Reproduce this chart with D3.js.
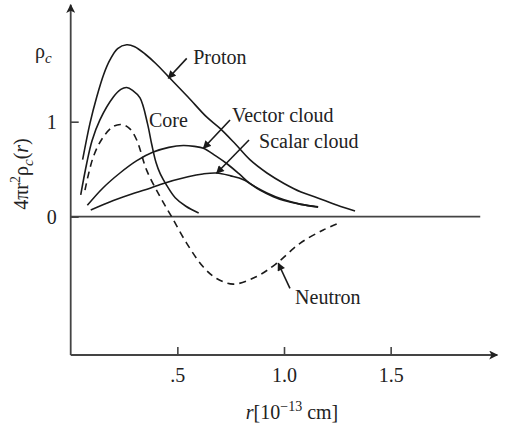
<!DOCTYPE html>
<html lang="en">
<head>
<meta charset="UTF-8"/>
<title>Charge density</title>
<script src="https://d3js.org/d3.v7.min.js"></script>
<style type="text/css">
  body { margin: 0; background: #fff; }
  svg text { font-family: "Liberation Serif", "DejaVu Serif", serif; font-size: 20px; fill: #222; }
  .curve { fill: none; stroke: #1a1a1a; stroke-width: 1.6; }
  .dashed { stroke-dasharray: 7, 5; }
  .axisLine { stroke: #444; stroke-width: 1.8; }
  .pointer { stroke: #1a1a1a; stroke-width: 1.6; }
</style>
</head>
<body>
<script>

// curves: [r, 4*pi*r^2*rho]
var proton = [[0.056,0.6],[0.09,0.98],[0.122,1.26],[0.155,1.5],[0.184,1.65],[0.22,1.77],[0.2625,1.81],
  [0.3,1.79],[0.35,1.71],[0.4,1.61],[0.456,1.48],[0.55,1.26],[0.637,1.05],[0.7,0.93],[0.77,0.77],
  [0.84,0.6],[0.92,0.46],[1.0,0.35],[1.08,0.26],[1.155,0.2],[1.25,0.12],[1.333,0.06]];
var core = [[0.047,0.23],[0.075,0.56],[0.1,0.8],[0.137,1.02],[0.2,1.26],[0.235,1.34],[0.2625,1.36],
  [0.29,1.33],[0.325,1.25],[0.36,0.98],[0.38,0.76],[0.4,0.57],[0.42,0.45],[0.45,0.33],[0.49,0.2],
  [0.54,0.11],[0.6,0.04]];
var neutron = [[0.067,0.28],[0.106,0.63],[0.153,0.84],[0.2,0.95],[0.239,0.97],[0.275,0.93],[0.309,0.81],
  [0.356,0.49],[0.419,0.21],[0.473,0.0],[0.544,-0.28],[0.622,-0.53],[0.684,-0.65],[0.762,-0.71],
  [0.872,-0.63],[0.966,-0.49],[1.075,-0.28],[1.184,-0.14],[1.247,-0.077]];
var vectorCloud = [[0.078,0.12],[0.15,0.3],[0.231,0.46],[0.31,0.59],[0.387,0.68],[0.46,0.73],[0.528,0.75],
  [0.58,0.74],[0.622,0.72],[0.68,0.64],[0.731,0.56],[0.79,0.45],[0.84,0.35],[0.92,0.25],[0.997,0.18],
  [1.08,0.13],[1.16,0.105]];
var scalarCloud = [[0.094,0.07],[0.2,0.17],[0.3,0.25],[0.372,0.3],[0.42,0.34],[0.55,0.42],[0.62,0.45],
  [0.684,0.46],[0.75,0.43],[0.81,0.39],[0.887,0.28],[0.95,0.21],[1.0,0.17],[1.08,0.13],[1.16,0.1]];

var xTicks = [0.5, 1.0, 1.5];
var xTickLabels = [".5", "1.0", "1.5"];
var yTicks = [0, 1];

// labels: text, start point, pointer from -> to (data units)
var labelNames = ["Proton", "Core", "Vector cloud", "Scalar cloud", "Neutron"];
var labelAt = [[0.574,1.607],[0.367,0.944],[0.756,0.997],[0.883,0.723],[1.052,-0.92]];
var pointers = [[[0.544,1.667],[0.4575,1.457]], null, [[0.747,1.018],[0.622,0.72]],
  [[0.836,0.807],[0.684,0.457]], [[1.028,-0.754],[0.973,-0.49]]];

var width = 505, height = 429;

var x = d3.scaleLinear().domain([0, 2]).range([70.7, 497.3]);
var y = d3.scaleLinear().domain([0, 1]).range([216.7, 121.7]);
var yBottom = -1.456, yTop = 2.23, zeroEnd = 1.92;

var svg = d3.select("body").append("svg")
    .attr("width", width)
    .attr("height", height);

var defs = svg.append("defs");
defs.append("marker").attr("id", "head")
    .attr("viewBox", "0 0 10 10").attr("refX", 9).attr("refY", 5)
    .attr("markerWidth", 10).attr("markerHeight", 8).attr("markerUnits", "userSpaceOnUse")
    .attr("orient", "auto")
  .append("path").attr("d", "M0,0 L10,5 L0,10 Z").attr("fill", "#1a1a1a");
defs.append("marker").attr("id", "axisHead")
    .attr("viewBox", "0 0 10 10").attr("refX", 9).attr("refY", 5)
    .attr("markerWidth", 13).attr("markerHeight", 9).attr("markerUnits", "userSpaceOnUse")
    .attr("orient", "auto")
  .append("path").attr("d", "M0,0 L10,5 L0,10 L2.5,5 Z").attr("fill", "#222");

// axes lines with arrows
svg.append("line").attr("class", "axisLine")
    .attr("x1", x(0)).attr("y1", y(yBottom)).attr("x2", x(0)).attr("y2", y(yTop))
    .attr("marker-end", "url(#axisHead)");
svg.append("line").attr("class", "axisLine")
    .attr("x1", x(0)).attr("y1", y(yBottom)).attr("x2", x(2)).attr("y2", y(yBottom))
    .attr("marker-end", "url(#axisHead)");
// zero line
svg.append("line").attr("class", "axisLine")
    .attr("x1", x(0)).attr("y1", y(0)).attr("x2", x(zeroEnd)).attr("y2", y(0));

// ticks
var xAxis = svg.append("g")
    .attr("transform", "translate(0," + y(yBottom) + ")")
    .call(d3.axisBottom(x).tickValues(xTicks).tickSize(-8).tickPadding(13)
      .tickFormat(function(d, i) { return xTickLabels[i]; }));
var yAxis = svg.append("g")
    .attr("transform", "translate(" + x(0) + ",0)")
    .call(d3.axisLeft(y).tickValues(yTicks).tickSize(-8).tickPadding(14).tickFormat(d3.format("d")));
[xAxis, yAxis].forEach(function(g) {
  g.select(".domain").remove();
  g.selectAll(".tick line").attr("stroke", "#444").attr("stroke-width", 1.6);
  g.selectAll("text").attr("font-family", null).attr("font-size", null).attr("fill", "#222");
});

// curves
var line = d3.line()
    .x(function(d) { return x(d[0]); })
    .y(function(d) { return y(d[1]); })
    .curve(d3.curveCatmullRom.alpha(0.5));

[proton, core, vectorCloud, scalarCloud].forEach(function(s) {
  svg.append("path").datum(s).attr("class", "curve").attr("d", line);
});
svg.append("path").datum(neutron).attr("class", "curve dashed").attr("d", line);

// labels and pointers
labelNames.forEach(function(name, i) {
  svg.append("text").attr("x", x(labelAt[i][0])).attr("y", y(labelAt[i][1])).text(name);
  var p = pointers[i];
  if (p) {
    svg.append("line").attr("class", "pointer")
        .attr("x1", x(p[0][0])).attr("y1", y(p[0][1]))
        .attr("x2", x(p[1][0])).attr("y2", y(p[1][1]))
        .attr("marker-end", "url(#head)");
  }
});

// rho_c at top of axis
var rho = svg.append("text").attr("x", 35).attr("y", 58);
rho.append("tspan").text("\u03c1");
rho.append("tspan").attr("font-style", "italic").attr("font-size", 15).attr("dy", 5).text("c");

// y axis title
var yt = svg.append("text")
    .attr("transform", "translate(28,174) rotate(-90)")
    .attr("text-anchor", "middle");
yt.append("tspan").text("4\u03c0r");
yt.append("tspan").attr("font-size", 14).attr("dy", -8).text("2");
yt.append("tspan").attr("dy", 8).text("\u03c1");
yt.append("tspan").attr("font-size", 15).attr("font-style", "italic").attr("dy", 5).text("c");
yt.append("tspan").attr("dy", -5).text("(");
yt.append("tspan").attr("font-style", "italic").text("r");
yt.append("tspan").text(")");

// x axis title
var xt = svg.append("text").attr("x", 292).attr("y", 419).attr("text-anchor", "middle");
xt.append("tspan").attr("font-style", "italic").text("r");
xt.append("tspan").text("[10");
xt.append("tspan").attr("font-size", 14).attr("dy", -8).text("\u221213");
xt.append("tspan").attr("dy", 8).text(" cm]");

</script>
</body>
</html>
